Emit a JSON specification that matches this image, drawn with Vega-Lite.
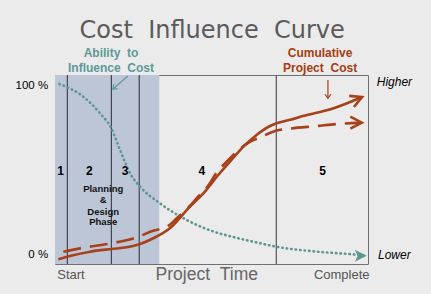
{
  "$schema": "https://vega.github.io/schema/vega-lite/v6.json",
  "width": 313,
  "height": 189,
  "autosize": {"type": "none"},
  "padding": {"left": 55, "top": 75, "right": 63, "bottom": 30},
  "background": "#ebebeb",
  "config": {"font": "Liberation Sans", "view": {"stroke": "#707070", "strokeWidth": 1}},
  "layer": [
    {
      "data": {"values": [{"x": 0, "x2": 33.3}]},
      "mark": {"type": "rect", "color": "#bcc6d6"},
      "encoding": {
        "x": {"field": "x", "type": "quantitative", "scale": {"domain": [0, 100], "nice": false, "zero": false}, "axis": null},
        "x2": {"field": "x2"}
      }
    },
    {
      "data": {"values": [{"x": 3.93}, {"x": 18.0}, {"x": 26.9}]},
      "mark": {"type": "rule", "color": "#2b2b33", "strokeWidth": 1},
      "encoding": {
        "x": {"field": "x", "type": "quantitative", "scale": {"domain": [0, 100], "nice": false, "zero": false}, "axis": null}
      }
    },
    {
      "data": {"values": [{"x": 70.7}]},
      "mark": {"type": "rule", "color": "#555555", "strokeWidth": 1.2},
      "encoding": {
        "x": {"field": "x", "type": "quantitative", "scale": {"domain": [0, 100], "nice": false, "zero": false}, "axis": null}
      }
    },
    {
      "data": {"values": [
        {"x": 1.4, "y": 101.2}, {"x": 9.0, "y": 93.7}, {"x": 14.4, "y": 83.8}, {"x": 18.0, "y": 75.0},
        {"x": 20.8, "y": 62.1}, {"x": 24.0, "y": 48.3}, {"x": 27.2, "y": 40.4}, {"x": 33.5, "y": 30.6},
        {"x": 42.1, "y": 20.7}, {"x": 49.5, "y": 14.6}, {"x": 57.0, "y": 10.6}, {"x": 63.5, "y": 7.8},
        {"x": 70.7, "y": 4.9}, {"x": 83.6, "y": 2.0}, {"x": 96.4, "y": 0.2}, {"x": 98.5, "y": -0.2}
      ]},
      "mark": {"type": "line", "color": "#5f9692", "strokeWidth": 2.6, "strokeDash": [0.5, 4], "strokeCap": "round", "interpolate": "monotone"},
      "encoding": {
        "x": {"field": "x", "type": "quantitative", "scale": {"domain": [0, 100], "nice": false, "zero": false}, "axis": null},
        "y": {"field": "y", "type": "quantitative", "scale": {"domain": [-5.33, 106.5], "nice": false, "zero": false}, "axis": null}
      }
    },
    {
      "data": {"values": [
        {"x": 2.65, "y": 1.95}, {"x": 9.0, "y": 4.3}, {"x": 18.1, "y": 6.9}, {"x": 27.2, "y": 11.2},
        {"x": 30.4, "y": 13.8}, {"x": 36.2, "y": 17.2}, {"x": 38.9, "y": 21.7}, {"x": 43.1, "y": 29.0},
        {"x": 45.3, "y": 33.6}, {"x": 49.5, "y": 42.4}, {"x": 51.1, "y": 47.3}, {"x": 55.4, "y": 56.2},
        {"x": 57.5, "y": 60.2}, {"x": 62.3, "y": 67.0}, {"x": 65.0, "y": 69.1}, {"x": 70.8, "y": 73.6},
        {"x": 75.1, "y": 74.8}, {"x": 83.6, "y": 76.3}, {"x": 90.0, "y": 77.5}, {"x": 98.0, "y": 78.3}
      ]},
      "mark": {"type": "line", "color": "#a8401a", "strokeWidth": 2.6, "strokeDash": [18, 9], "interpolate": "monotone"},
      "encoding": {
        "x": {"field": "x", "type": "quantitative", "scale": {"domain": [0, 100], "nice": false, "zero": false}, "axis": null},
        "y": {"field": "y", "type": "quantitative", "scale": {"domain": [-5.33, 106.5], "nice": false, "zero": false}, "axis": null}
      }
    },
    {
      "data": {"values": [
        {"x": 1.05, "y": -2.5}, {"x": 4.8, "y": -0.6}, {"x": 11.2, "y": 1.95}, {"x": 18.1, "y": 3.55},
        {"x": 22.9, "y": 4.56}, {"x": 27.2, "y": 6.5}, {"x": 31.4, "y": 9.9}, {"x": 36.7, "y": 15.8},
        {"x": 43.1, "y": 28.6}, {"x": 47.4, "y": 36.5}, {"x": 51.7, "y": 46.3}, {"x": 55.9, "y": 55.2},
        {"x": 60.2, "y": 64.1}, {"x": 64.4, "y": 71.0}, {"x": 68.7, "y": 76.3}, {"x": 70.8, "y": 77.9},
        {"x": 75.1, "y": 80.0}, {"x": 79.2, "y": 82.2}, {"x": 88.8, "y": 86.7}, {"x": 98.1, "y": 93.5}
      ]},
      "mark": {"type": "line", "color": "#a8401a", "strokeWidth": 2.6, "interpolate": "monotone"},
      "encoding": {
        "x": {"field": "x", "type": "quantitative", "scale": {"domain": [0, 100], "nice": false, "zero": false}, "axis": null},
        "y": {"field": "y", "type": "quantitative", "scale": {"domain": [-5.33, 106.5], "nice": false, "zero": false}, "axis": null}
      }
    },
    {
      "data": {"values": [{"x": 99.6, "y": -0.4}]},
      "mark": {"type": "point", "shape": "M-2,-1L0,0L-2,1L-1.5,0Z", "filled": true, "color": "#5f9692", "opacity": 1, "size": 144},
      "encoding": {
        "x": {"field": "x", "type": "quantitative", "scale": {"domain": [0, 100], "nice": false, "zero": false}, "axis": null},
        "y": {"field": "y", "type": "quantitative", "scale": {"domain": [-5.33, 106.5], "nice": false, "zero": false}, "axis": null}
      }
    },
    {
      "data": {"values": [{"x": 98.0, "y": 78.3}]},
      "mark": {"type": "point", "shape": "M-1.9,-1L0,0L-1.9,1", "filled": false, "color": "#a8401a", "opacity": 1, "strokeWidth": 2.6, "size": 144},
      "encoding": {
        "x": {"field": "x", "type": "quantitative", "scale": {"domain": [0, 100], "nice": false, "zero": false}, "axis": null},
        "y": {"field": "y", "type": "quantitative", "scale": {"domain": [-5.33, 106.5], "nice": false, "zero": false}, "axis": null}
      }
    },
    {
      "data": {"values": [{"x": 98.1, "y": 93.5}]},
      "mark": {"type": "point", "shape": "M-1.9,-1L0,0L-1.9,1", "filled": false, "color": "#a8401a", "opacity": 1, "strokeWidth": 2.6, "size": 144, "angle": -23},
      "encoding": {
        "x": {"field": "x", "type": "quantitative", "scale": {"domain": [0, 100], "nice": false, "zero": false}, "axis": null},
        "y": {"field": "y", "type": "quantitative", "scale": {"domain": [-5.33, 106.5], "nice": false, "zero": false}, "axis": null}
      }
    },
    {
      "data": {"values": [{"x": 23.3, "y": 105.9, "x2": 18.5, "y2": 98.2}]},
      "mark": {"type": "rule", "color": "#5f9692", "strokeWidth": 1.2},
      "encoding": {
        "x": {"field": "x", "type": "quantitative", "scale": {"domain": [0, 100], "nice": false, "zero": false}, "axis": null},
        "y": {"field": "y", "type": "quantitative", "scale": {"domain": [-5.33, 106.5], "nice": false, "zero": false}, "axis": null},
        "x2": {"field": "x2"},
        "y2": {"field": "y2"}
      }
    },
    {
      "data": {"values": [{"x": 18.5, "y": 98.2}]},
      "mark": {"type": "point", "shape": "M-1.3,-1L0,0L-1.3,1", "filled": false, "color": "#5f9692", "opacity": 1, "strokeWidth": 1.2, "size": 36, "angle": 139},
      "encoding": {
        "x": {"field": "x", "type": "quantitative", "scale": {"domain": [0, 100], "nice": false, "zero": false}, "axis": null},
        "y": {"field": "y", "type": "quantitative", "scale": {"domain": [-5.33, 106.5], "nice": false, "zero": false}, "axis": null}
      }
    },
    {
      "data": {"values": [{"x": 87.2, "y": 103.6, "x2": 87.2, "y2": 92.8}]},
      "mark": {"type": "rule", "color": "#a8401a", "strokeWidth": 1.2},
      "encoding": {
        "x": {"field": "x", "type": "quantitative", "scale": {"domain": [0, 100], "nice": false, "zero": false}, "axis": null},
        "y": {"field": "y", "type": "quantitative", "scale": {"domain": [-5.33, 106.5], "nice": false, "zero": false}, "axis": null},
        "x2": {"field": "x2"},
        "y2": {"field": "y2"}
      }
    },
    {
      "data": {"values": [{"x": 87.2, "y": 92.8}]},
      "mark": {"type": "point", "shape": "M-1.3,-1L0,0L-1.3,1", "filled": false, "color": "#a8401a", "opacity": 1, "strokeWidth": 1.2, "size": 36, "angle": 90},
      "encoding": {
        "x": {"field": "x", "type": "quantitative", "scale": {"domain": [0, 100], "nice": false, "zero": false}, "axis": null},
        "y": {"field": "y", "type": "quantitative", "scale": {"domain": [-5.33, 106.5], "nice": false, "zero": false}, "axis": null}
      }
    },
    {
      "data": {"values": [{"label": "Cost\u00a0\u00a0Influence\u00a0\u00a0Curve", "x": 50.2, "y": 128.4}]},
      "mark": {"type": "text", "font": "DejaVu Sans", "fontSize": 24, "color": "#5a5a5a", "align": "center", "baseline": "alphabetic"},
      "encoding": {
        "x": {"field": "x", "type": "quantitative", "scale": {"domain": [0, 100], "nice": false, "zero": false}, "axis": null},
        "y": {"field": "y", "type": "quantitative", "scale": {"domain": [-5.33, 106.5], "nice": false, "zero": false}, "axis": null},
        "text": {"field": "label"}
      }
    },
    {
      "data": {"values": [{"label": "Ability\u00a0 to", "x": 17.9, "y": 117.0}, {"label": "Influence\u00a0 Cost", "x": 17.9, "y": 108.1}]},
      "mark": {"type": "text", "fontSize": 12, "fontWeight": "bold", "color": "#5c9a96", "align": "center", "baseline": "alphabetic"},
      "encoding": {
        "x": {"field": "x", "type": "quantitative", "scale": {"domain": [0, 100], "nice": false, "zero": false}, "axis": null},
        "y": {"field": "y", "type": "quantitative", "scale": {"domain": [-5.33, 106.5], "nice": false, "zero": false}, "axis": null},
        "text": {"field": "label"}
      }
    },
    {
      "data": {"values": [{"label": "Cumulative", "x": 84.7, "y": 117.0}, {"label": "Project\u00a0 Cost", "x": 84.7, "y": 108.1}]},
      "mark": {"type": "text", "fontSize": 12, "fontWeight": "bold", "color": "#a63c12", "align": "center", "baseline": "alphabetic"},
      "encoding": {
        "x": {"field": "x", "type": "quantitative", "scale": {"domain": [0, 100], "nice": false, "zero": false}, "axis": null},
        "y": {"field": "y", "type": "quantitative", "scale": {"domain": [-5.33, 106.5], "nice": false, "zero": false}, "axis": null},
        "text": {"field": "label"}
      }
    },
    {
      "data": {"values": [
        {"label": "1", "x": 1.8, "y": 49.7}, {"label": "2", "x": 11.0, "y": 49.7}, {"label": "3", "x": 22.4, "y": 49.7},
        {"label": "4", "x": 46.9, "y": 49.7}, {"label": "5", "x": 85.5, "y": 49.7}
      ]},
      "mark": {"type": "text", "fontSize": 12, "fontWeight": "bold", "color": "#000000", "align": "center", "baseline": "middle"},
      "encoding": {
        "x": {"field": "x", "type": "quantitative", "scale": {"domain": [0, 100], "nice": false, "zero": false}, "axis": null},
        "y": {"field": "y", "type": "quantitative", "scale": {"domain": [-5.33, 106.5], "nice": false, "zero": false}, "axis": null},
        "text": {"field": "label"}
      }
    },
    {
      "data": {"values": [
        {"label": "Planning", "x": 15.4, "y": 38.9}, {"label": "&", "x": 15.4, "y": 32.5},
        {"label": "Design", "x": 15.4, "y": 25.6}, {"label": "Phase", "x": 15.4, "y": 19.3}
      ]},
      "mark": {"type": "text", "fontSize": 9.5, "fontWeight": "bold", "color": "#111111", "align": "center", "baseline": "middle"},
      "encoding": {
        "x": {"field": "x", "type": "quantitative", "scale": {"domain": [0, 100], "nice": false, "zero": false}, "axis": null},
        "y": {"field": "y", "type": "quantitative", "scale": {"domain": [-5.33, 106.5], "nice": false, "zero": false}, "axis": null},
        "text": {"field": "label"}
      }
    },
    {
      "data": {"values": [{"label": "100 %", "x": -2.2, "y": 100}, {"label": "0 %", "x": -2.2, "y": 0}]},
      "mark": {"type": "text", "fontSize": 11.5, "color": "#000000", "align": "right", "baseline": "middle"},
      "encoding": {
        "x": {"field": "x", "type": "quantitative", "scale": {"domain": [0, 100], "nice": false, "zero": false}, "axis": null},
        "y": {"field": "y", "type": "quantitative", "scale": {"domain": [-5.33, 106.5], "nice": false, "zero": false}, "axis": null},
        "text": {"field": "label"}
      }
    },
    {
      "data": {"values": [{"label": "Higher", "x": 102.8, "y": 102.4}, {"label": "Lower", "x": 103.2, "y": 0}]},
      "mark": {"type": "text", "fontSize": 12, "fontStyle": "italic", "color": "#000000", "align": "left", "baseline": "middle"},
      "encoding": {
        "x": {"field": "x", "type": "quantitative", "scale": {"domain": [0, 100], "nice": false, "zero": false}, "axis": null},
        "y": {"field": "y", "type": "quantitative", "scale": {"domain": [-5.33, 106.5], "nice": false, "zero": false}, "axis": null},
        "text": {"field": "label"}
      }
    },
    {
      "data": {"values": [{"label": "Start", "x": 5.1, "y": -14.5}, {"label": "Complete", "x": 91.6, "y": -14.5}]},
      "mark": {"type": "text", "fontSize": 13, "color": "#555555", "align": "center", "baseline": "alphabetic"},
      "encoding": {
        "x": {"field": "x", "type": "quantitative", "scale": {"domain": [0, 100], "nice": false, "zero": false}, "axis": null},
        "y": {"field": "y", "type": "quantitative", "scale": {"domain": [-5.33, 106.5], "nice": false, "zero": false}, "axis": null},
        "text": {"field": "label"}
      }
    },
    {
      "data": {"values": [{"label": "Project\u00a0\u00a0Time", "x": 48.5, "y": -14.8}]},
      "mark": {"type": "text", "fontSize": 17.5, "color": "#666666", "align": "center", "baseline": "alphabetic"},
      "encoding": {
        "x": {"field": "x", "type": "quantitative", "scale": {"domain": [0, 100], "nice": false, "zero": false}, "axis": null},
        "y": {"field": "y", "type": "quantitative", "scale": {"domain": [-5.33, 106.5], "nice": false, "zero": false}, "axis": null},
        "text": {"field": "label"}
      }
    }
  ]
}
